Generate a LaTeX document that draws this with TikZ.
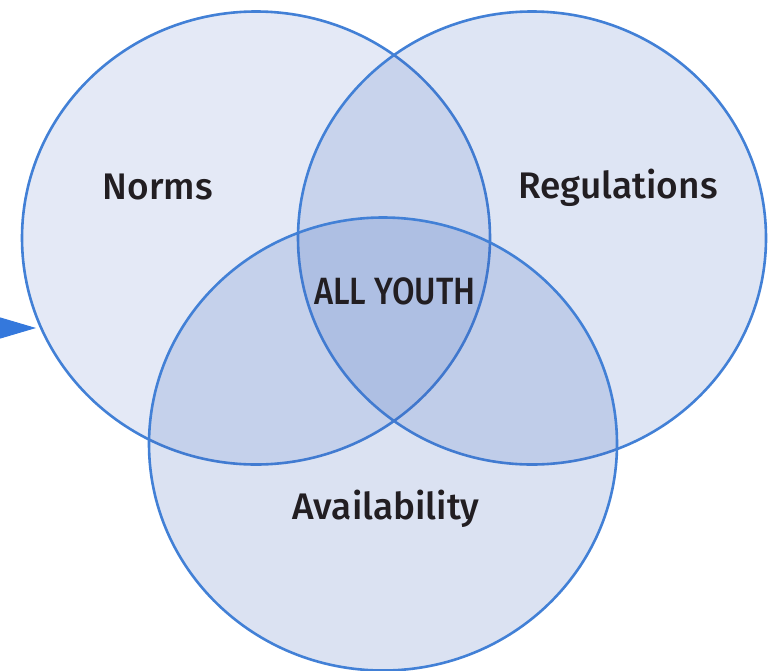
\documentclass[tikz,border=0pt]{standalone}
\usepackage{fontspec}
\setmainfont{Fira Sans Medium}
\newfontfamily\narrowfont[FakeStretch=0.86]{Fira Sans Medium}
\usetikzlibrary{shapes}
\usetikzlibrary{arrows.meta}
\definecolor{vennfill}{RGB}{62,102,188}
\definecolor{vennline}{RGB}{66,128,214}
\definecolor{vennarrow}{RGB}{52,120,220}
\definecolor{venntext}{RGB}{34,30,34}
\tikzset{
    mycircle/.style = {ellipse, line width=2.6pt, draw=vennline, fill=vennfill, fill opacity=#1, draw opacity=1, minimum width=468pt, minimum height=453pt},
    mylabel/.style = {font=\fontsize{37}{40}\selectfont, text=venntext, anchor=base},
    mylabelc/.style = {font=\narrowfont\fontsize{38}{40}\selectfont, text=venntext, anchor=base},
    edgea/.style = {line width=1pt, vennarrow, -{Triangle[length=36pt,width=21pt]}},
}
\begin{document}
\begin{tikzpicture}[x=1pt,y=-1pt]
\path[use as bounding box] (0,0) rectangle (773,670);
%
\node[mycircle=0.14] at (256,238) (norms) {};
\node[mycircle=0.17] at (532,238) (regs) {};
\node[mycircle=0.19] at (383,444) (avail) {};
%
\node[mylabel] at (158,199) (tnorms) {Norms};
\node[mylabel] at (618,198) (tregs) {Regulations};
\node[mylabelc] at (395,304) (tall) {ALL YOUTH};
\node[mylabel] at (386,519) (tavail) {Availability};
%
\coordinate (src) at (-20,328);
\coordinate (tip) at (36,328);
\draw[edgea] (src) -- (tip);
\end{tikzpicture}
\end{document}
